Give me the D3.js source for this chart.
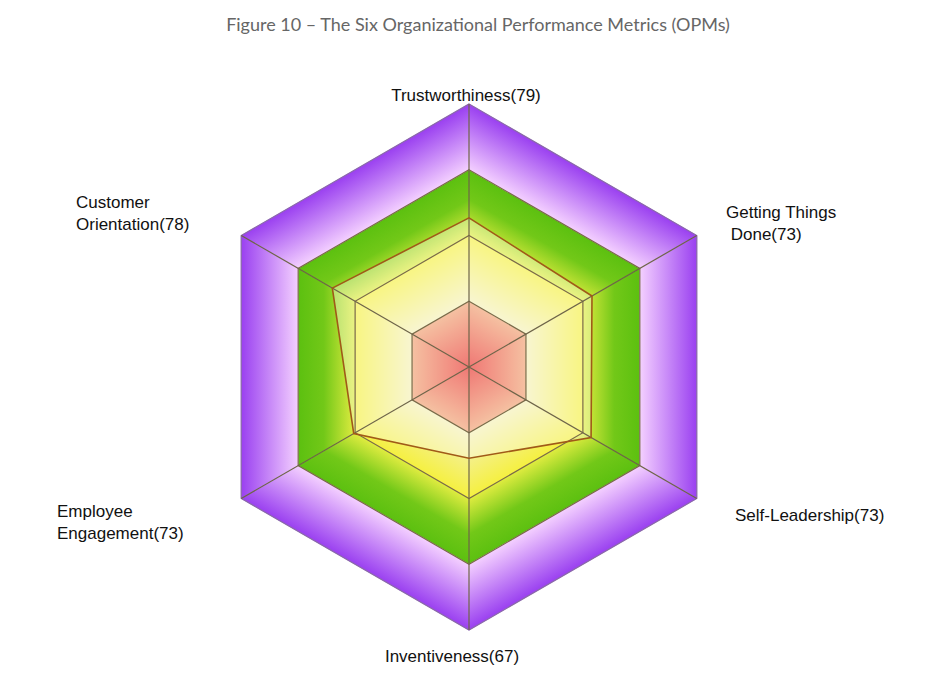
<!DOCTYPE html>
<html><head><meta charset="utf-8">
<script src="https://d3js.org/d3.v7.min.js"></script>
<style>body{margin:0;background:#fff}</style>
</head><body>
<script>
// OPM radar data
const metrics = ["Trustworthiness", "Getting Things Done", "Self-Leadership", "Inventiveness", "Employee Engagement", "Customer Orientation"];
const scores = [79, 73, 73, 67, 73, 78];
// plotted radial position (percent of the outer ring)
const plotted = [56.7, 54, 53.6, 34.7, 50.6, 60];
const ringLevels = [25, 50, 75, 100];
const ringColors = [
  ["#e8302a", "#f0a070"],   // centre -> edge
  ["#f4f0b8", "#f5f040"],   // inner -> outer
  ["#e0ec40", "#5cc010"],
  ["#f4d0ff", "#9a40f0"]
];

const W = 940, H = 678, cx = 469, cy = 367, R = 263;
const svg = d3.select("body").append("svg").attr("width", W).attr("height", H);
const defs = svg.append("defs");
const r = d3.scaleLinear().domain([0, 100]).range([0, R]);
const ang = i => (i * 60 - 90) * Math.PI / 180;
const pt = (i, v) => [cx + r(v) * Math.cos(ang(i)), cy + r(v) * Math.sin(ang(i))];

// rings, drawn as six trapezoids each with a gradient across the band
ringLevels.forEach((lv, k) => {
  const inner = k === 0 ? 0 : ringLevels[k - 1];
  for (let i = 0; i < 6; i++) {
    const j = (i + 1) % 6;
    const id = "g" + k + "_" + i;
    const a = (ang(i) + ang(i) + Math.PI / 3) / 2;
    const ap = Math.cos(Math.PI / 6);
    const g = defs.append("linearGradient").attr("id", id).attr("gradientUnits", "userSpaceOnUse")
      .attr("x1", cx + r(inner) * ap * Math.cos(a)).attr("y1", cy + r(inner) * ap * Math.sin(a))
      .attr("x2", cx + r(lv) * ap * Math.cos(a)).attr("y2", cy + r(lv) * ap * Math.sin(a));
    if (k === 2) {
      g.append("stop").attr("offset", 0).attr("stop-color", ringColors[k][0]);
      g.append("stop").attr("offset", 0.55).attr("stop-color", "#72c818");
      g.append("stop").attr("offset", 1).attr("stop-color", ringColors[k][1]);
    } else {
      g.append("stop").attr("offset", 0).attr("stop-color", ringColors[k][0]);
      g.append("stop").attr("offset", 1).attr("stop-color", ringColors[k][1]);
    }
    const poly = [pt(i, inner), pt(i, lv), pt(j, lv), pt(j, inner)];
    svg.append("path").attr("d", d3.line()(poly) + "Z").attr("fill", `url(#${id})`).attr("stroke", `url(#${id})`).attr("stroke-width", 0.5);
  }
});

// data polygon
const dataPts = plotted.map((v, i) => pt(i, v));
svg.append("path").attr("d", d3.line()(dataPts) + "Z")
  .attr("fill", "#ffffff").attr("fill-opacity", 0.35);

// ring outlines
ringLevels.forEach((lv, k) => {
  svg.append("path").attr("d", d3.line()(d3.range(6).map(i => pt(i, lv))) + "Z")
    .attr("fill", "none").attr("stroke", k === 3 ? "#8a6aa8" : "#7a6a48").attr("stroke-width", 1.2);
});
// spokes
d3.range(6).forEach(i => {
  const [x, y] = pt(i, 100);
  svg.append("line").attr("x1", cx).attr("y1", cy).attr("x2", x).attr("y2", y)
    .attr("stroke", "#6e6448").attr("stroke-width", 1.2);
});
svg.append("path").attr("d", d3.line()(dataPts) + "Z")
  .attr("fill", "none").attr("stroke", "#a05a18").attr("stroke-width", 1.6);

// title
svg.append("text").attr("x", 478).attr("y", 31).attr("text-anchor", "middle")
  .attr("font-family", "Lato, 'Open Sans', sans-serif").attr("font-size", 18).attr("fill", "#666")
  .text("Figure 10 \u2013 The Six Organizational Performance Metrics (OPMs)");

// axis labels
const labelPos = [
  {x: 466, y: 101, anchor: "middle", lines: ["Trustworthiness(" + scores[0] + ")"]},
  {x: 726, y: 218, anchor: "start", lines: ["Getting Things", " Done(" + scores[1] + ")"]},
  {x: 735, y: 521, anchor: "start", lines: ["Self-Leadership(" + scores[2] + ")"]},
  {x: 452, y: 662, anchor: "middle", lines: ["Inventiveness(" + scores[3] + ")"]},
  {x: 57, y: 517, anchor: "start", lines: ["Employee", "Engagement(" + scores[4] + ")"]},
  {x: 76, y: 208, anchor: "start", lines: ["Customer", "Orientation(" + scores[5] + ")"]}
];
labelPos.forEach(l => {
  const t = svg.append("text").attr("text-anchor", l.anchor)
    .attr("font-family", "'Liberation Sans', Arial, sans-serif").attr("font-size", 17).attr("fill", "#111");
  l.lines.forEach((s, n) => t.append("tspan").attr("x", l.x).attr("y", l.y + n * 22).attr("xml:space", "preserve").text(s));
});
</script>
</body></html>
